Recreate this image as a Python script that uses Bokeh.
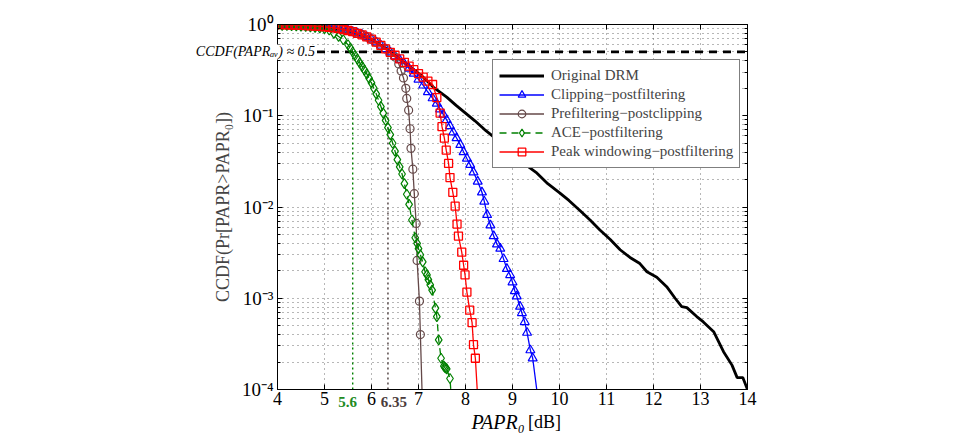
from bokeh.plotting import figure
from bokeh.models import (Range1d, FixedTicker, CustomJSTickFormatter, LogAxis, LinearAxis,
                          Legend, LegendItem)
from bokeh.core.properties import value
from bokeh.embed import file_html
from bokeh.resources import INLINE

# ---------------- data ----------------
x_ticks = [4, 5, 6, 7, 8, 9, 10, 11, 12, 13, 14]
y_ticks = [1e-4, 1e-3, 1e-2, 1e-1, 1.0]
y_tick_labels = ["10⁻⁴", "10⁻³", "10⁻²", "10⁻¹", "10⁰"]
y_minor = [m * 10.0 ** e for e in (-4, -3, -2, -1) for m in range(2, 10)]

orig_x = [4.0, 4.5, 5.0, 5.5, 6.0, 6.3, 6.6, 6.9, 7.1, 7.32, 7.6, 7.8, 8.0, 8.2, 8.4, 8.56,
          8.8, 9.0, 9.24, 9.5, 9.75, 10.01, 10.2, 10.44, 10.65, 10.86, 11.08, 11.29, 11.5,
          11.71, 11.86, 12.07, 12.28, 12.46, 12.6, 12.71, 12.92, 13.06, 13.28, 13.49, 13.67,
          13.78, 13.9, 14.0]
orig_y = [1.0, 0.98, 0.945, 0.86, 0.69, 0.55, 0.42, 0.32, 0.265, 0.205, 0.16, 0.13, 0.107,
          0.088, 0.071, 0.061, 0.048, 0.039, 0.030, 0.024, 0.018, 0.0142, 0.0118, 0.0091,
          0.0072, 0.0056, 0.0044, 0.0034, 0.0028, 0.0024, 0.00195, 0.0017, 0.00134, 0.00100,
          0.00081, 0.00079, 0.00063, 0.00055, 0.00043, 0.00026, 0.000185, 0.000135, 0.000135,
          0.0001]

clip_x = [4.0, 4.1, 4.2, 4.3, 4.4, 4.5, 4.6, 4.7, 4.8, 4.9, 5.0, 5.1, 5.2, 5.3, 5.4, 5.5,
          5.6, 5.7, 5.8, 5.9, 6.0, 6.1, 6.2, 6.3, 6.4, 6.5, 6.6, 6.7, 6.8, 6.9, 7.0, 7.1,
          7.2, 7.3, 7.39, 7.46, 7.53, 7.6, 7.67, 7.74, 7.81, 7.89, 7.96, 8.03, 8.1, 8.17,
          8.26, 8.35, 8.4, 8.46, 8.53, 8.6, 8.67, 8.74, 8.81, 8.88, 8.95, 9.0, 9.05, 9.09,
          9.16, 9.2, 9.26, 9.31, 9.38, 9.43, 9.54]
clip_y = [1.0, 0.995, 0.99, 0.988, 0.985, 0.98, 0.975, 0.968, 0.96, 0.953, 0.945, 0.932,
          0.918, 0.9, 0.88, 0.86, 0.835, 0.80, 0.77, 0.73, 0.69, 0.64, 0.59, 0.54, 0.495,
          0.45, 0.41, 0.37, 0.33, 0.29, 0.25, 0.215, 0.182, 0.156, 0.136, 0.118, 0.103, 0.09,
          0.077, 0.066, 0.057, 0.048, 0.040, 0.034, 0.029, 0.024, 0.019, 0.0145, 0.0115,
          0.0082, 0.0063, 0.0048, 0.0039, 0.0035, 0.0027, 0.0021, 0.0018, 0.0015, 0.0012,
          0.00105, 0.00081, 0.00069, 0.00055, 0.00042, 0.00027, 0.00022, 0.00008]

pre_x = [4.0, 4.1, 4.2, 4.3, 4.4, 4.5, 4.6, 4.7, 4.8, 4.9, 5.0, 5.1, 5.2, 5.3, 5.4, 5.5,
         5.6, 5.7, 5.8, 5.9, 6.0, 6.1, 6.2, 6.3, 6.4, 6.5, 6.58, 6.63, 6.68, 6.73, 6.75,
         6.79, 6.82, 6.84, 6.88, 6.91, 6.95, 6.97, 7.02, 7.04, 7.08]
pre_y = [1.0, 0.995, 0.99, 0.988, 0.985, 0.98, 0.975, 0.968, 0.96, 0.953, 0.945, 0.932,
         0.918, 0.9, 0.88, 0.86, 0.835, 0.80, 0.77, 0.73, 0.69, 0.64, 0.59, 0.54, 0.495,
         0.44, 0.37, 0.31, 0.26, 0.2, 0.155, 0.115, 0.072, 0.044, 0.026, 0.014, 0.0066,
         0.0026, 0.00093, 0.0004, 0.00008]

ace_x = [4.0, 4.1, 4.2, 4.3, 4.4, 4.5, 4.6, 4.7, 4.8, 4.9, 5.0, 5.1, 5.2, 5.3, 5.4, 5.5,
         5.55, 5.6, 5.65, 5.7, 5.75, 5.8, 5.85, 5.9, 5.95, 6.0, 6.05, 6.1, 6.15, 6.2, 6.25,
         6.3, 6.35, 6.4, 6.45, 6.5, 6.55, 6.6, 6.65, 6.7, 6.75, 6.8, 6.86, 6.93, 6.97, 7.0,
         7.04, 7.09, 7.14, 7.18, 7.21, 7.25, 7.29, 7.36, 7.39, 7.43, 7.48, 7.54, 7.56, 7.58,
         7.6, 7.67, 7.70]
ace_y = [0.985, 0.98, 0.975, 0.97, 0.965, 0.96, 0.95, 0.94, 0.93, 0.92, 0.90, 0.87, 0.80,
         0.74, 0.68, 0.6, 0.55, 0.5, 0.457, 0.417, 0.38, 0.347, 0.316, 0.288, 0.257, 0.229,
         0.2, 0.174, 0.148, 0.126, 0.107, 0.089, 0.074, 0.062, 0.05, 0.041, 0.033, 0.0275,
         0.023, 0.018, 0.0138, 0.0107, 0.0072, 0.0046, 0.004, 0.0035, 0.003, 0.0025,
         0.00195, 0.0018, 0.0016, 0.0014, 0.00123, 0.00078, 0.00063, 0.00035, 0.00022,
         0.00018, 0.000175, 0.000172, 0.000168, 0.000132, 0.00008]

peak_x = [4.0, 4.1, 4.2, 4.3, 4.4, 4.5, 4.6, 4.7, 4.8, 4.9, 5.0, 5.1, 5.2, 5.3, 5.4, 5.5,
          5.6, 5.7, 5.8, 5.9, 6.0, 6.1, 6.2, 6.3, 6.4, 6.5, 6.6, 6.7, 6.8, 6.9, 7.0, 7.1,
          7.2, 7.3, 7.39, 7.46, 7.50, 7.55, 7.59, 7.64, 7.67, 7.73, 7.78, 7.82, 7.85, 7.92,
          7.96, 7.99, 8.03, 8.09, 8.14, 8.17, 8.21, 8.26]
peak_y = [1.0, 0.995, 0.99, 0.988, 0.985, 0.98, 0.975, 0.968, 0.96, 0.953, 0.945, 0.932,
          0.918, 0.9, 0.88, 0.86, 0.835, 0.80, 0.77, 0.73, 0.69, 0.64, 0.59, 0.54, 0.495,
          0.46, 0.42, 0.385, 0.35, 0.32, 0.29, 0.265, 0.24, 0.22, 0.158, 0.107, 0.076,
          0.057, 0.042, 0.030, 0.021, 0.0145, 0.0102, 0.0065, 0.0048, 0.0032, 0.0023,
          0.0018, 0.00117, 0.00074, 0.00054, 0.00031, 0.00022, 0.00008]

ref_level = 0.5
ref_line_x = [4.84, 14.0]
ref_text = "CCDF(PAPRₐᵥ) ≈ 0.5"
ref_text_x = 4.8
papr_av_ace = 5.6
papr_av_pre = 6.35
papr_av_labels = ["5.6", "6.35"]
x_label_parts = ["PAPR₀", "[dB]"]
x_label_pos = [9.26, 9.33]

names = ["Original DRM", "Clipping−postfiltering", "Prefiltering−postclipping",
         "ACE−postfiltering", "Peak windowing−postfiltering"]

# ---------------- styles ----------------
SERIF = "Liberation Serif"
BLUE = "#0000ff"
BROWN = "#644848"
GREEN = "#008000"
RED = "#ff0000"

p = figure(width=954, height=434, x_range=Range1d(4, 14), y_range=Range1d(1e-4, 1.0),
           y_axis_type="log", output_backend="svg", toolbar_location=None,
           min_border_left=277, min_border_right=207, min_border_top=24, min_border_bottom=45)
p.background_fill_color = "white"
p.border_fill_color = "white"
p.outline_line_color = "black"
p.outline_line_width = 1

# axes
p.xaxis.ticker = FixedTicker(ticks=x_ticks, minor_ticks=[])
p.yaxis.ticker = FixedTicker(ticks=y_ticks, minor_ticks=y_minor)
p.yaxis.formatter = CustomJSTickFormatter(args=dict(vals=y_ticks, labels=y_tick_labels), code="""
let best = 0, d = Infinity;
for (let i = 0; i < vals.length; i++) {
  const dd = Math.abs(Math.log10(tick) - Math.log10(vals[i]));
  if (dd < d) { d = dd; best = i; }
}
return labels[best];
""")
for ax in (p.xaxis[0], p.yaxis[0]):
    ax.major_tick_in = 5
    ax.major_tick_out = 0
    ax.minor_tick_in = 3
    ax.minor_tick_out = 0
    ax.axis_line_color = "black"
    ax.major_label_text_font = SERIF
    ax.major_label_text_color = "black"
p.xaxis.major_label_text_font_size = "18px"
p.yaxis.major_label_text_font_size = "19px"
p.xaxis.major_label_standoff = 2
p.yaxis.major_label_standoff = 4
p.yaxis.axis_label = "CCDF(Pr[PAPR>PAPR₀])"
p.yaxis.axis_label_text_font = SERIF
p.yaxis.axis_label_text_font_size = "18px"
p.yaxis.axis_label_text_font_style = "normal"
p.yaxis.axis_label_standoff = 6

empty_fmt = CustomJSTickFormatter(code="return '';")
right_ax = LogAxis(ticker=FixedTicker(ticks=y_ticks, minor_ticks=y_minor), formatter=empty_fmt,
                   major_tick_in=5, major_tick_out=0, minor_tick_in=3, minor_tick_out=0,
                   major_label_standoff=0, major_label_text_font_size="0px")
top_ax = LinearAxis(ticker=FixedTicker(ticks=x_ticks, minor_ticks=[]), formatter=empty_fmt,
                    major_tick_in=5, major_tick_out=0, minor_tick_in=0, minor_tick_out=0,
                    major_label_standoff=0, major_label_text_font_size="0px")
p.add_layout(right_ax, "right")
p.add_layout(top_ax, "above")

# grids (MATLAB dotted)
for g in (p.xgrid[0], p.ygrid[0]):
    g.grid_line_color = "#6e6e6e"
    g.grid_line_dash = "1 4"
p.ygrid.minor_grid_line_color = "#6e6e6e"
p.ygrid.minor_grid_line_dash = "1 4"

# reference lines
p.line(ref_line_x, [ref_level, ref_level], line_color="black", line_width=2.8, line_dash="8 6")
p.line([papr_av_ace, papr_av_ace], [y_ticks[0], ref_level], line_color=GREEN, line_width=1.4,
       line_dash="2 3")
p.line([papr_av_pre, papr_av_pre], [y_ticks[0], ref_level], line_color="#4b3c3c",
       line_width=1.4, line_dash="2 3")

# curves
r_orig = p.line(orig_x, orig_y, line_color="black", line_width=2.8)

r_clip_l = p.line(clip_x, clip_y, line_color=BLUE, line_width=1.3)
r_clip_m = p.scatter(clip_x, clip_y, marker="triangle", size=9, fill_color=None,
                     line_color=BLUE, line_width=1.2)

r_pre_l = p.line(pre_x, pre_y, line_color=BROWN, line_width=1.3)
r_pre_m = p.scatter(pre_x, pre_y, marker="circle", size=8, fill_color=None,
                    line_color=BROWN, line_width=1.2)

r_ace_l = p.line(ace_x, ace_y, line_color=GREEN, line_width=1.3, line_dash="7 5")
r_ace_m = p.scatter(ace_x, ace_y, marker="diamond", size=10, fill_color=None,
                    line_color=GREEN, line_width=1.2)

r_peak_l = p.line(peak_x, peak_y, line_color=RED, line_width=1.3)
r_peak_m = p.scatter(peak_x, peak_y, marker="square", size=8, fill_color=None,
                     line_color=RED, line_width=1.3)

legend = Legend(items=[
    LegendItem(label=names[0], renderers=[r_orig]),
    LegendItem(label=names[1], renderers=[r_clip_l, r_clip_m]),
    LegendItem(label=names[2], renderers=[r_pre_l, r_pre_m]),
    LegendItem(label=names[3], renderers=[r_ace_l, r_ace_m]),
    LegendItem(label=names[4], renderers=[r_peak_l, r_peak_m]),
], location=(215, 221), margin=0, padding=6, spacing=0, label_height=19, glyph_height=19,
    glyph_width=45, label_standoff=7, label_text_font=SERIF, label_text_font_size="15px",
    border_line_color="black", border_line_width=1, background_fill_color="white",
    background_fill_alpha=1.0)
p.add_layout(legend)

# texts outside the frame (overlay level so they are not clipped)
p.text(x=[ref_text_x], y=[ref_level], text=[ref_text], text_align="right",
       text_baseline="middle", text_font=value(SERIF), text_font_style="italic",
       text_font_size="14px", text_color="black", background_fill_color="white",
       level="overlay")
p.text(x=[papr_av_ace], y=[y_ticks[0]], text=[papr_av_labels[0]], x_offset=-5, y_offset=12,
       text_align="center", text_baseline="middle", text_font=value(SERIF),
       text_font_style="bold", text_font_size="15px", text_color="#228b22", level="overlay")
p.text(x=[papr_av_pre], y=[y_ticks[0]], text=[papr_av_labels[1]], x_offset=6, y_offset=12,
       text_align="center", text_baseline="middle", text_font=value(SERIF),
       text_font_style="bold", text_font_size="15px", text_color="#4b3c3c", level="overlay")
p.text(x=[x_label_pos[0]], y=[y_ticks[0]], text=[x_label_parts[0]], y_offset=32,
       text_align="right", text_baseline="middle", text_font=value(SERIF),
       text_font_style="italic", text_font_size="20px", text_color="black", level="overlay")
p.text(x=[x_label_pos[1]], y=[y_ticks[0]], text=[x_label_parts[1]], y_offset=32,
       text_align="left", text_baseline="middle", text_font=value(SERIF),
       text_font_style="normal", text_font_size="18px", text_color="black", level="overlay")

open("out.html", "w").write(file_html(p, INLINE))
